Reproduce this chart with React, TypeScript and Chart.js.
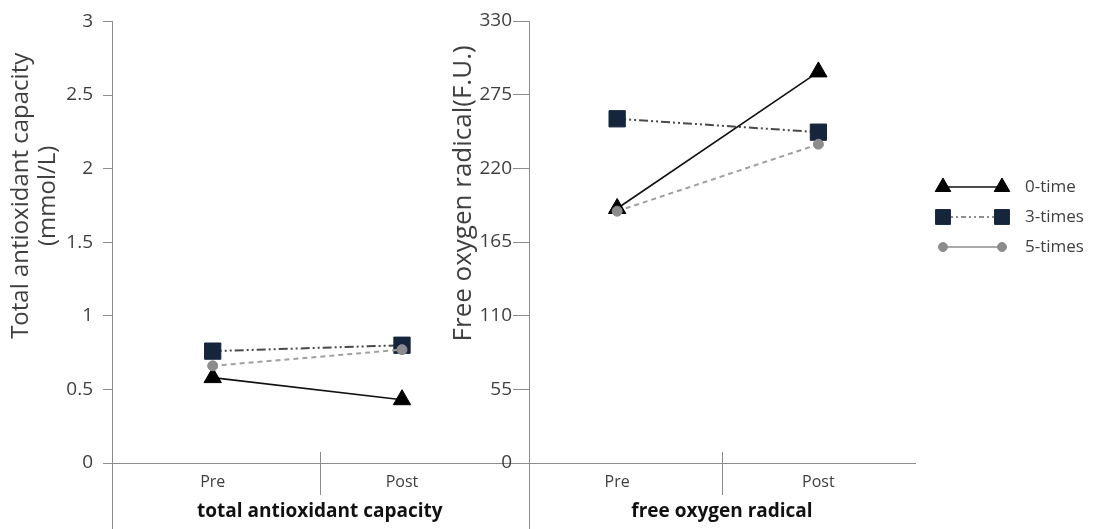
import React, { useEffect, useRef } from 'react';
import { Chart, registerables } from 'chart.js';
import { drawPoint } from 'chart.js/helpers';

Chart.register(...registerables);

// ---------- data ----------
const categories = ['Pre', 'Post'];
const seriesNames = ['0-time', '3-times', '5-times'];

const tacPanelTitle = 'total antioxidant capacity';
const forPanelTitle = 'free oxygen radical';
const tacAxisTitle = ['Total antioxidant capacity', '(mmol/L)'];
const forAxisTitle = ['Free oxygen radical(F.U.)'];

const tacZeroTime = [0.58, 0.43];
const tacThreeTimes = [0.76, 0.8];
const tacFiveTimes = [0.66, 0.77];

const forZeroTime = [190, 292];
const forThreeTimes = [257, 247];
const forFiveTimes = [188, 238];

const tacTicks = [0, 0.5, 1, 1.5, 2, 2.5, 3];
const tacTickLabels = ['0', '0.5', '1', '1.5', '2', '2.5', '3'];
const forTicks = [0, 55, 110, 165, 220, 275, 330];
const forTickLabels = ['0', '55', '110', '165', '220', '275', '330'];

// ---------- styles ----------
const FONT = "'Open Sans', 'Noto Sans', sans-serif";
const AXIS = '#8c8c8c';
const TEXT = '#3f3f3f';

const seriesStyles = [
  { line: '#111111', width: 1.6, dash: [] as number[], shape: 'triangle', radius: 10, fill: '#000000', legendDash: [] as number[], legendLine: '#111111', legendRadius: 9, order: 1 },
  { line: '#4a4a4a', width: 2, dash: [9, 3, 2, 3, 2, 3], shape: 'rect', radius: 11.5, fill: '#14253c', legendDash: [5, 3, 2, 3, 2, 3], legendLine: '#6a6a6a', legendRadius: 10.5, order: 2 },
  { line: '#a0a0a0', width: 2, dash: [5, 4], shape: 'circle', radius: 5, fill: '#8c8c8c', legendDash: [] as number[], legendLine: '#8c8c8c', legendRadius: 4.5, order: 0 },
];

function makeDatasets(series: number[][]) {
  return series.map((vals, i) => {
    const s = seriesStyles[i];
    return {
      label: seriesNames[i],
      data: vals.map((v, k) => ({ x: k, y: v })),
      borderColor: s.line,
      borderWidth: s.width,
      borderDash: s.dash,
      pointStyle: s.shape,
      pointRadius: s.radius,
      pointBackgroundColor: s.fill,
      pointBorderColor: s.fill,
      pointBorderWidth: 1,
      tension: 0,
      order: s.order,
    };
  });
}

const decorPlugin = {
  id: 'decor',
  afterDraw(chart: any, _args: any, opts: any) {
    const { ctx, chartArea } = chart;
    const { left, right, top, bottom } = chartArea;
    ctx.save();
    // extend y axis line to the bottom of the canvas
    ctx.strokeStyle = AXIS;
    ctx.lineWidth = 1;
    ctx.setLineDash([]);
    const ax = Math.round(left) + 0.5;
    ctx.beginPath();
    ctx.moveTo(ax, bottom);
    ctx.lineTo(ax, chart.height);
    ctx.stroke();
    // category separator
    const sx = Math.round((left + right) / 2) + 0.5;
    ctx.beginPath();
    ctx.moveTo(sx, bottom - 11);
    ctx.lineTo(sx, bottom + 32);
    ctx.stroke();
    // y title
    ctx.fillStyle = TEXT;
    ctx.font = `${opts.titleSize}px ${FONT}`;
    ctx.textAlign = 'center';
    ctx.textBaseline = 'middle';
    const cy = top + (bottom - top) * opts.titleFrac;
    ctx.translate(opts.titleX, cy);
    ctx.rotate(-Math.PI / 2);
    (opts.title as string[]).forEach((t, i) => ctx.fillText(t, 0, i * opts.titleLine));
    ctx.restore();

    if (opts.legend) {
      ctx.save();
      const x0 = right + 28;
      const x1 = right + 87;
      const tx = right + 110;
      chart.data.datasets.forEach((ds: any, i: number) => {
        const s = seriesStyles[i];
        const y = top + 166 + i * 30;
        ctx.strokeStyle = s.legendLine;
        ctx.lineWidth = 1.6;
        ctx.setLineDash(s.legendDash);
        ctx.beginPath();
        ctx.moveTo(x0, y);
        ctx.lineTo(x1, y);
        ctx.stroke();
        ctx.setLineDash([]);
        ctx.fillStyle = s.fill;
        ctx.strokeStyle = s.fill;
        ctx.lineWidth = 1;
        const po = { pointStyle: s.shape, radius: s.legendRadius, rotation: 0, borderWidth: 1 };
        drawPoint(ctx, po as any, x0, y);
        drawPoint(ctx, po as any, x1, y);
        ctx.fillStyle = TEXT;
        ctx.font = `17px ${FONT}`;
        ctx.textAlign = 'left';
        ctx.textBaseline = 'middle';
        ctx.fillText(ds.label, tx, y);
      });
      ctx.restore();
    }
  },
};

function makeConfig(opts: {
  series: number[][];
  ticks: number[];
  tickLabels: string[];
  xMin: number;
  xMax: number;
  yWidth: number;
  yTickLen: number;
  yTickPad: number;
  panelTitle: string;
  axisTitle: string[];
  titleX: number;
  titleSize: number;
  titleLine: number;
  titleFrac: number;
  padRight: number;
  legend: boolean;
}): any {
  return {
    type: 'line',
    data: { datasets: makeDatasets(opts.series) },
    plugins: [decorPlugin],
    options: {
      responsive: false,
      animation: false,
      devicePixelRatio: 1,
      layout: { padding: { top: 21, right: opts.padRight, left: 0, bottom: 0 } },
      plugins: {
        legend: { display: false },
        tooltip: { enabled: false },
        decor: {
          title: opts.axisTitle,
          titleX: opts.titleX,
          titleSize: opts.titleSize,
          titleLine: opts.titleLine,
          titleFrac: opts.titleFrac,
          legend: opts.legend,
        },
      },
      scales: {
        x: {
          type: 'linear',
          min: opts.xMin,
          max: opts.xMax,
          afterBuildTicks: (scale: any) => {
            scale.ticks = categories.map((_, i) => ({ value: i }));
          },
          afterFit: (scale: any) => {
            scale.height = 66;
          },
          ticks: {
            callback: (v: any) => categories[v] ?? '',
            padding: 10,
            maxRotation: 0,
            autoSkip: false,
            color: TEXT,
            font: { family: FONT, size: 16 },
          },
          grid: { display: false, drawTicks: false },
          border: { display: true, color: AXIS, width: 1 },
          title: {
            display: true,
            text: opts.panelTitle,
            color: '#111111',
            font: { family: FONT, size: 19, weight: 'bold' },
            padding: { top: 0, bottom: 6 },
          },
        },
        y: {
          type: 'linear',
          min: opts.ticks[0],
          max: opts.ticks[opts.ticks.length - 1],
          afterBuildTicks: (scale: any) => {
            scale.ticks = opts.ticks.map((v) => ({ value: v }));
          },
          afterFit: (scale: any) => {
            scale.width = opts.yWidth;
          },
          ticks: {
            callback: (v: any) => {
              const k = opts.ticks.indexOf(v);
              return k >= 0 ? opts.tickLabels[k] : '';
            },
            padding: opts.yTickPad,
            color: TEXT,
            font: { family: FONT, size: 19 },
          },
          grid: {
            drawOnChartArea: false,
            drawTicks: true,
            tickLength: opts.yTickLen,
            color: AXIS,
          },
          border: { display: true, color: AXIS, width: 1 },
        },
      },
    },
  };
}

export default function App() {
  const leftRef = useRef<HTMLCanvasElement>(null);
  const rightRef = useRef<HTMLCanvasElement>(null);

  useEffect(() => {
    const left = new Chart(
      leftRef.current as HTMLCanvasElement,
      makeConfig({
        series: [tacZeroTime, tacThreeTimes, tacFiveTimes],
        ticks: tacTicks,
        tickLabels: tacTickLabels,
        xMin: -0.532,
        xMax: 1.663,
        yWidth: 112,
        yTickLen: 9,
        yTickPad: 10,
        panelTitle: tacPanelTitle,
        axisTitle: tacAxisTitle,
        titleX: 21,
        titleSize: 24,
        titleLine: 27,
        titleFrac: 0.395,
        padRight: 11,
        legend: false,
      })
    );
    const right = new Chart(
      rightRef.current as HTMLCanvasElement,
      makeConfig({
        series: [forZeroTime, forThreeTimes, forFiveTimes],
        ticks: forTicks,
        tickLabels: forTickLabels,
        xMin: -0.438,
        xMax: 1.48,
        yWidth: 89,
        yTickLen: 16,
        yTickPad: 1,
        panelTitle: forPanelTitle,
        axisTitle: forAxisTitle,
        titleX: 24,
        titleSize: 26,
        titleLine: 27,
        titleFrac: 0.39,
        padRight: 193,
        legend: true,
      })
    );
    return () => {
      left.destroy();
      right.destroy();
    };
  }, []);

  return (
    <div style={{ position: 'fixed', left: 0, top: 0, width: 1108, height: 529, background: '#ffffff', overflow: 'hidden' }}>
      <canvas ref={leftRef} width={540} height={529} style={{ position: 'absolute', left: 0, top: 0, width: 540, height: 529 }} />
      <canvas ref={rightRef} width={668} height={529} style={{ position: 'absolute', left: 440, top: 0, width: 668, height: 529 }} />
    </div>
  );
}
